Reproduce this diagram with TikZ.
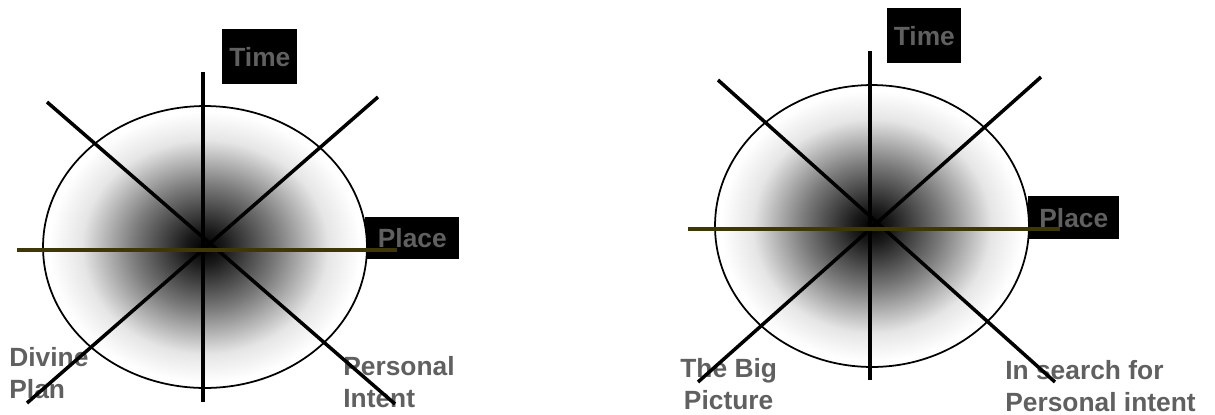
\documentclass[tikz,border=0pt]{standalone}
\usepackage{fontspec}
\setmainfont{Liberation Sans}
\usepackage{xcolor}
\definecolor{labelgray}{RGB}{96,96,96}
\definecolor{darkolive}{RGB}{62,56,8}
\usepackage{tikz}
\pgfdeclareradialshading{dusk}{\pgfpoint{0bp}{0bp}}{color(0bp)=(black); color(3bp)=(black!90); color(11bp)=(black!52); color(19bp)=(black!10); color(24bp)=(white); color(50bp)=(white)}

\begin{document}
\begin{tikzpicture}[x=0.02cm, y=-0.02cm,
    tag/.style={rectangle, fill=black, text=labelgray, inner sep=0pt,
      font=\fontsize{15}{18}\selectfont\bfseries, anchor=north west},
    caption/.style={inner sep=0pt, text=labelgray, anchor=north west,
      font=\fontsize{15}{18}\selectfont\bfseries},
    globe/.style={draw=black, line width=1pt, shading=dusk},
    spoke/.style={black, line width=2pt},
    horizon/.style={darkolive, line width=2pt}
]
\useasboundingbox (0,0) rectangle (1215,414);

% left wheel
\node[tag, minimum width=1.5cm, minimum height=1.1cm] (time1) at (222,29) {Time};
\node[tag, minimum width=1.88cm, minimum height=0.84cm] (place1) at (365,217) {Place};
\node[caption, align=left] (divine) at (9,347) {Divine\\Plan};
\node[caption, align=left] (intent1) at (343,356) {Personal\\Intent};

\path[globe] (205,247) ellipse [x radius=3.24cm, y radius=2.82cm];
\draw[spoke] (203,72) -- (203,402);
\draw[spoke] (47,102) -- (395,404);
\draw[spoke] (378,97) -- (27,403);
\draw[horizon] (17,250) -- (397,250);

% right wheel
\node[tag, minimum width=1.48cm, minimum height=1.1cm] (time2) at (887,8) {Time};
\node[tag, minimum width=1.82cm, minimum height=0.86cm] (place2) at (1028,196) {Place};
\node[caption, align=center] (bigpic) at (680,358) {The Big\\Picture};
\node[caption, align=left] (intent2) at (1005,360) {In search for\\Personal intent};

\path[globe] (872,226) ellipse [x radius=3.14cm, y radius=2.82cm];
\draw[spoke] (870,51) -- (870,380);
\draw[spoke] (718,80) -- (1055,382);
\draw[spoke] (1041,77) -- (698,382);
\draw[horizon] (688,229) -- (1060,229);
\end{tikzpicture}
\end{document}
